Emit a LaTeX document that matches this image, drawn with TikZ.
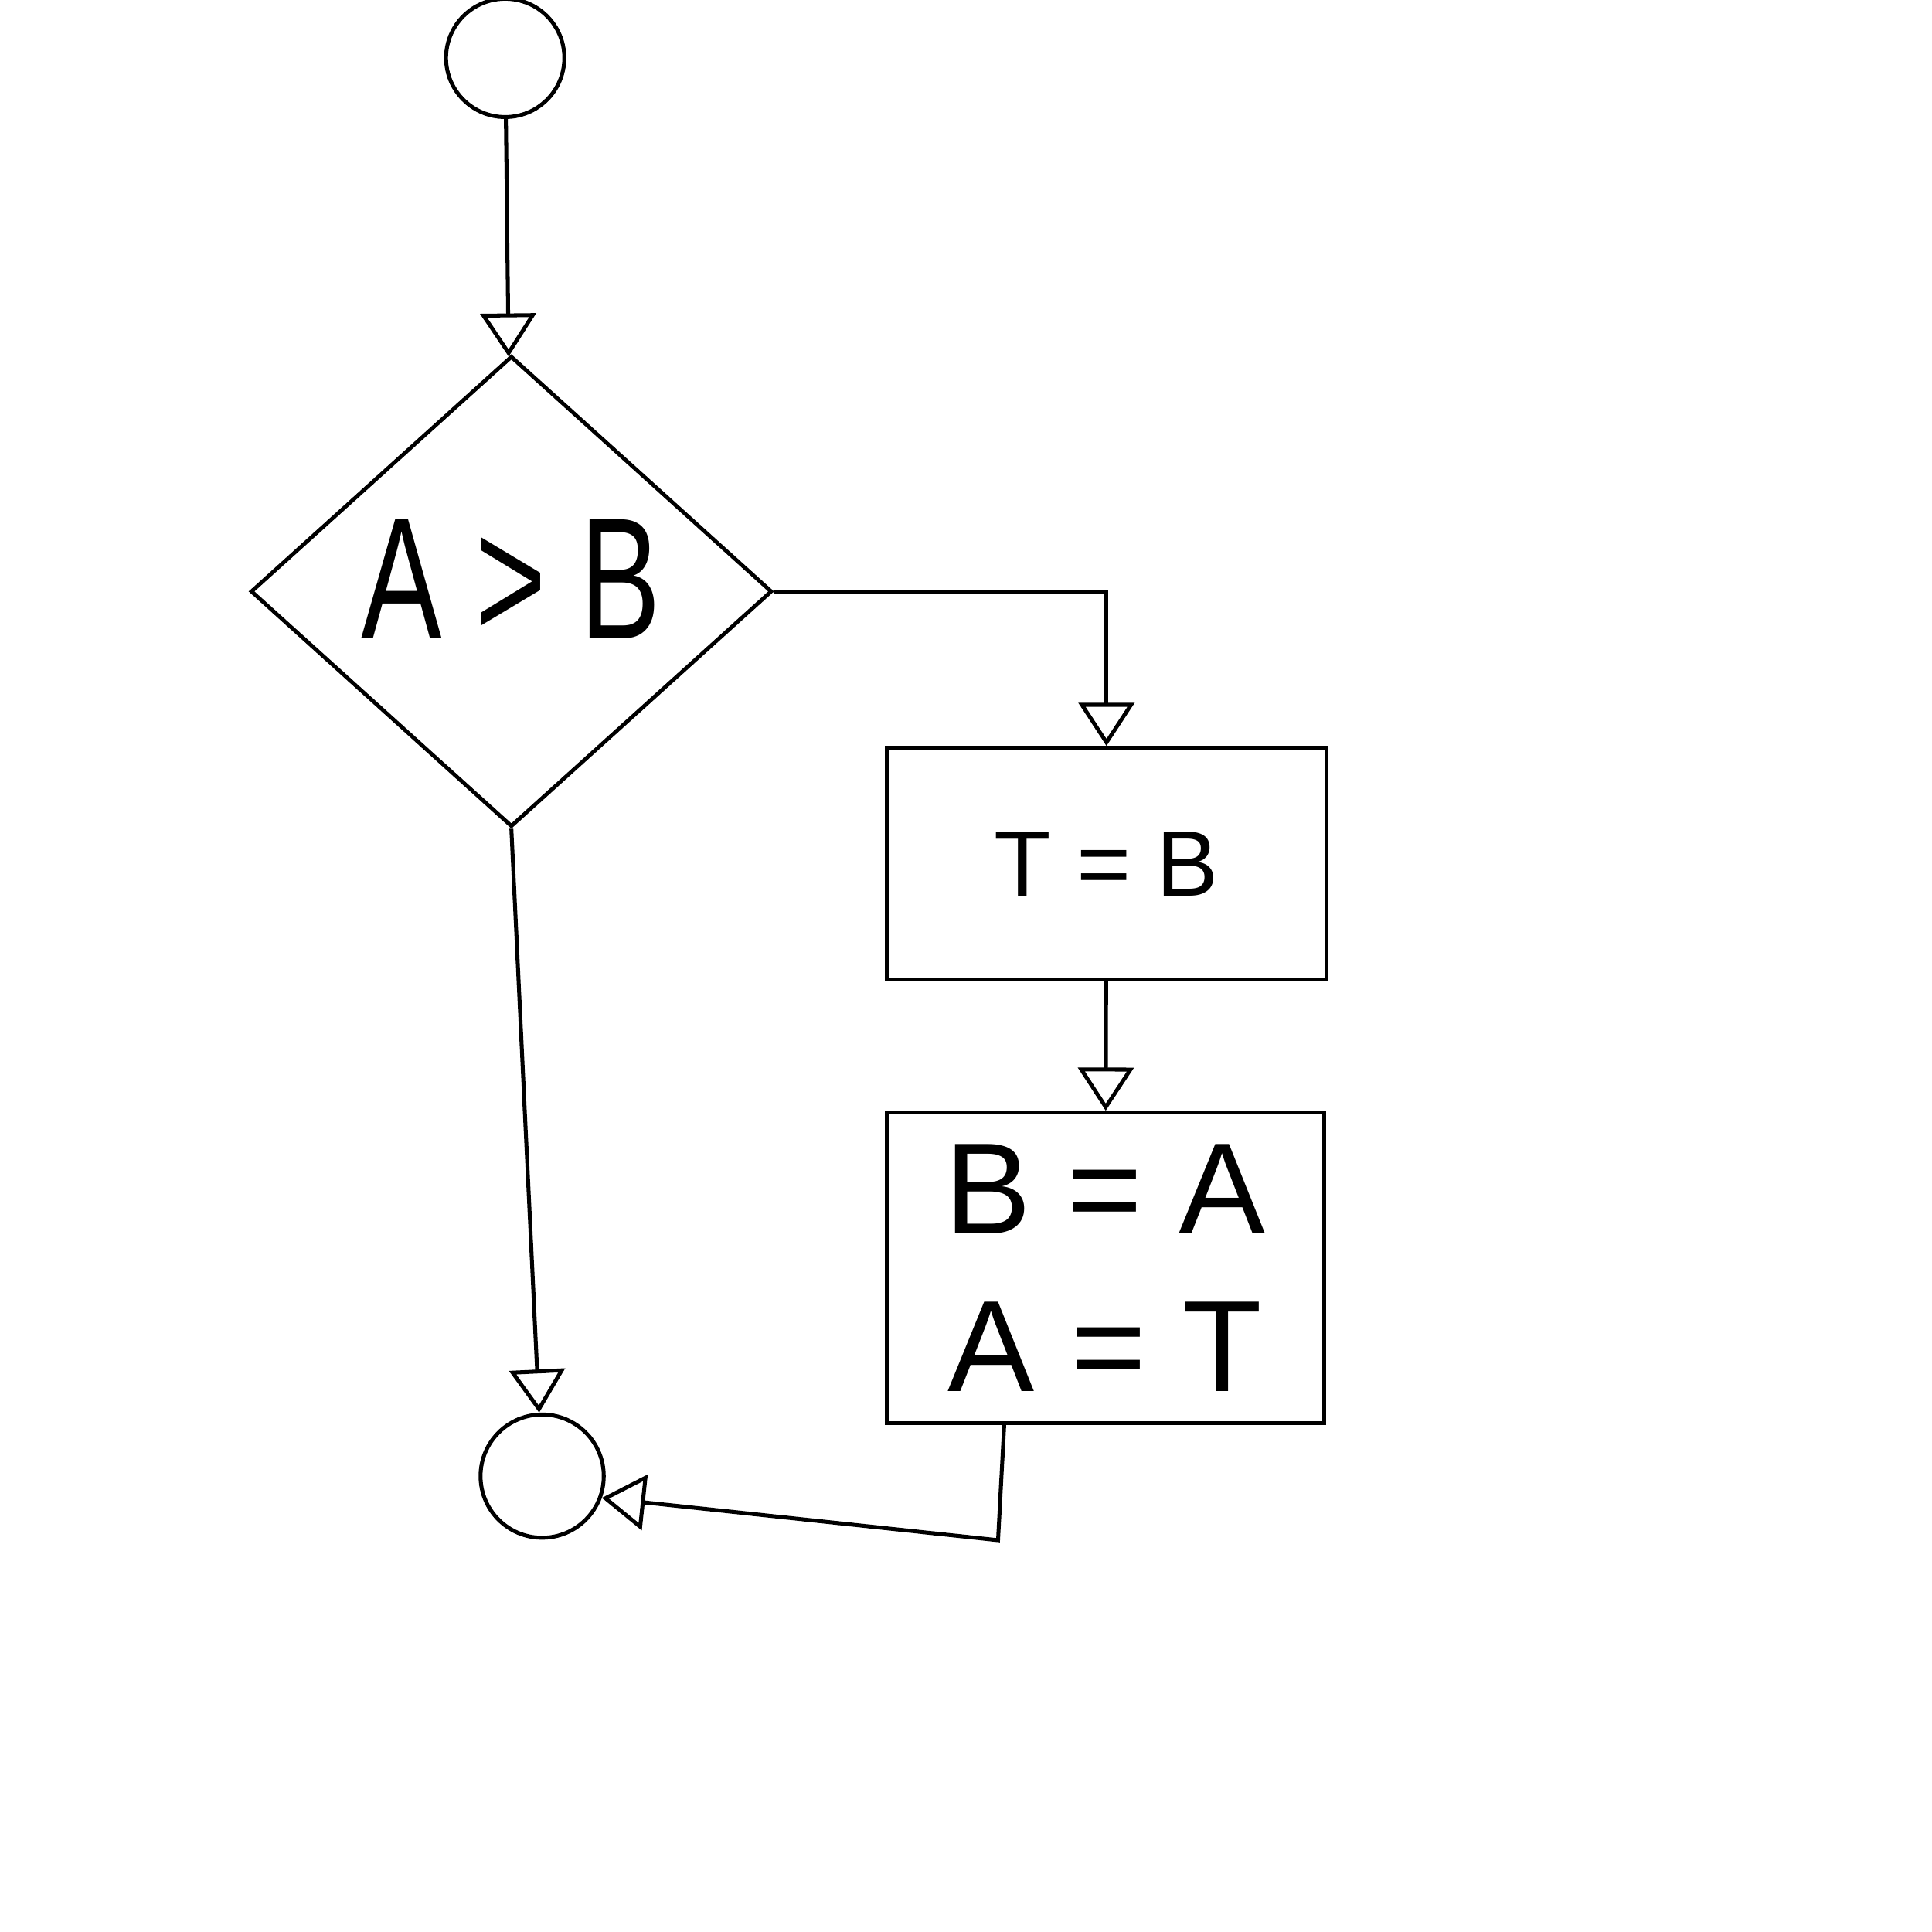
\documentclass[tikz,border=0pt]{standalone}
\usepackage{fontspec}
\setmainfont{Liberation Sans}
\newfontfamily\handfont[FakeStretch=0.7]{Liberation Sans}
\usetikzlibrary{shapes.geometric,arrows.meta}
\begin{document}
\begin{tikzpicture}[
            line width=0.9pt,
            >={Triangle[open,length=3.5mm,width=4.5mm]},
            term/.style={draw, circle, minimum size=0.96cm, inner sep=0pt},
            dec/.style={draw, diamond, minimum width=4.23cm, minimum height=3.82cm, inner sep=0pt},
            proc/.style={draw, rectangle, align=center}
        ]
           \useasboundingbox (0,0) rectangle (15.68,-15.68);

           \node[term] (start) at (4.1,-0.47) {};
           \node[dec, label={[font=\handfont\fontsize{40}{44}\selectfont, yshift=0.1cm]center:A > B}] (cmp) at (4.15,-4.8) {};

           \node[proc, minimum width=3.57cm, minimum height=1.88cm, font=\fontsize{21.5}{26}\selectfont] (tb) at (8.98,-7.01) {T = B};
           \node[proc, minimum width=3.55cm, minimum height=2.52cm, font=\fontsize{30}{36.5}\selectfont] (swap) at (8.97,-10.29) {B = A\\A = T};

           \node[term, minimum size=1.0cm] (stop) at (4.4,-11.98) {};

           \draw[->] (start) -- (cmp);
           \draw[->] (cmp.east) -| (tb.north);
           \draw[->] (tb) -- (swap);
           \draw[->] (cmp.south) -- (stop);
           \coordinate (jn) at (8.1,-12.5);
           \draw[->] ([xshift=-0.82cm]swap.south) -- (jn) -- (stop.-20);
        \end{tikzpicture}
\end{document}
